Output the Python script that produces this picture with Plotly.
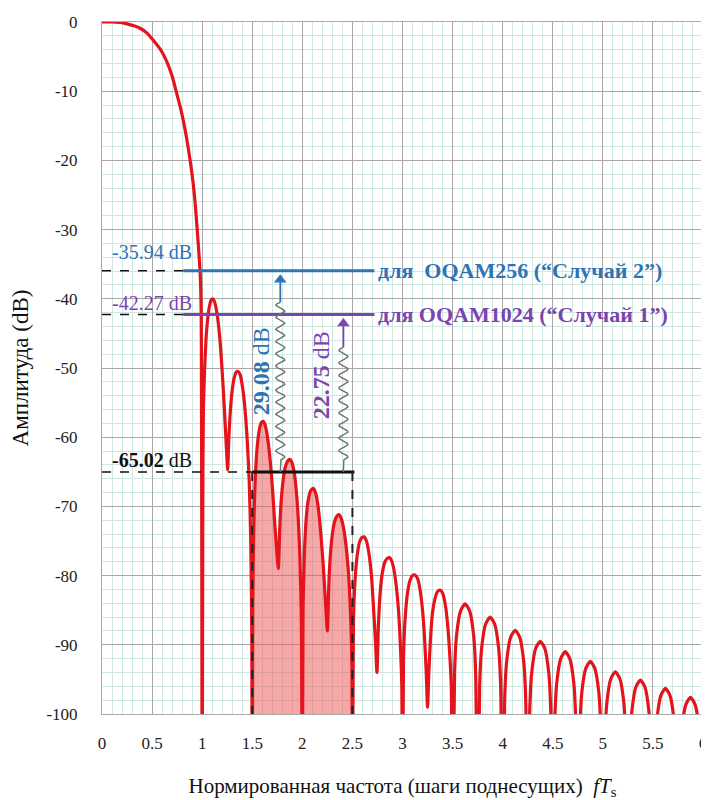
import numpy as np
import plotly.graph_objects as go

# ---------------- data ----------------
freq = [
    0.00, 0.10, 0.20, 0.26, 0.32, 0.38, 0.45, 0.51, 0.58, 0.64, 0.70, 0.74, 0.79, 0.83, 0.88, 0.91, 0.93, 0.96, 0.98, 0.99, 1.00,
    1.006, 1.012, 1.025, 1.045, 1.070, 1.090, 1.105, 1.125, 1.150, 1.175, 1.200, 1.220, 1.240, 1.255,
    1.265, 1.280, 1.300, 1.320, 1.340, 1.360, 1.380, 1.400, 1.425, 1.450, 1.470, 1.485, 1.495, 1.500,
    1.505, 1.515, 1.530, 1.550, 1.570, 1.590, 1.610, 1.630, 1.655, 1.680, 1.700, 1.720, 1.740, 1.760,
    1.775, 1.790, 1.810, 1.830, 1.855, 1.875, 1.895, 1.920, 1.940, 1.960, 1.975, 1.990, 2.000,
    2.007, 2.020, 2.040, 2.060, 2.085, 2.110, 2.135, 2.160, 2.185, 2.210, 2.230, 2.250,
    2.265, 2.280, 2.300, 2.320, 2.345, 2.365, 2.385, 2.410, 2.435, 2.460, 2.480, 2.495, 2.500,
    2.510, 2.525, 2.550, 2.575, 2.595, 2.615, 2.640, 2.665, 2.690, 2.710, 2.730, 2.745,
    2.760, 2.780, 2.800, 2.825, 2.850, 2.870, 2.890, 2.915, 2.940, 2.960, 2.980, 2.993, 3.000,
    3.010, 3.025, 3.050, 3.075, 3.100, 3.125, 3.150, 3.175, 3.200, 3.220, 3.237, 3.250,
    3.263, 3.280, 3.300, 3.325, 3.350, 3.375, 3.400, 3.425, 3.450, 3.470, 3.487, 3.500,
    3.520, 3.540, 3.580, 3.625, 3.670, 3.710, 3.730, 3.750,
    3.770, 3.790, 3.830, 3.875, 3.920, 3.960, 3.980, 4.000,
    4.020, 4.040, 4.080, 4.125, 4.170, 4.210, 4.230, 4.250,
    4.270, 4.290, 4.330, 4.375, 4.420, 4.460, 4.480, 4.500,
    4.520, 4.540, 4.580, 4.625, 4.670, 4.710, 4.730, 4.750,
    4.770, 4.790, 4.830, 4.875, 4.920, 4.960, 4.980, 5.000,
    5.020, 5.040, 5.080, 5.125, 5.170, 5.210, 5.230, 5.250,
    5.270, 5.290, 5.330, 5.375, 5.420, 5.460, 5.480, 5.500,
    5.520, 5.540, 5.580, 5.625, 5.670, 5.710, 5.730, 5.750,
    5.770, 5.790, 5.830, 5.875, 5.920, 5.960, 5.980, 6.000,
]
amp_db = [
    0.0, 0.0, -0.1, -0.3, -0.55, -0.9, -1.6, -2.6, -3.9, -5.5, -7.8, -10.0, -12.8, -15.6, -20.0, -23.3, -26.2, -31.9, -36.3, -42.0, -120,
    -70, -56, -50, -44.5, -41.3, -40.2, -40.0, -40.5, -42.3, -45.5, -50.5, -55.5, -61.0, -64.7,
    -60.5, -56.5, -53.2, -51.4, -50.6, -50.5, -51.0, -52.5, -55.5, -60.5, -66.5, -75.0, -88.0, -120,
    -85, -73, -66, -61.3, -59.0, -57.9, -57.7, -58.3, -60.3, -63.5, -67.0, -71.5, -75.5, -79.0,
    -73, -69, -66, -64.3, -63.4, -63.2, -63.6, -65.2, -67.8, -72.0, -77.0, -86.0, -120,
    -85, -77, -71.5, -69.0, -67.7, -67.4, -68.2, -70.3, -74.0, -78.8, -83.5, -88.0,
    -81, -77, -74, -72.3, -71.4, -71.2, -71.6, -73.0, -75.5, -79.5, -85.0, -93.0, -120,
    -87, -81, -76.8, -75.0, -74.5, -74.4, -75.0, -76.8, -80.0, -84.5, -89.5, -94.0,
    -87, -82, -79.5, -78.0, -77.5, -77.4, -77.8, -79.2, -81.8, -85.0, -90.5, -96.0, -120,
    -92, -86.5, -82.5, -80.7, -80.0, -79.9, -80.4, -82.0, -85.0, -89.0, -94.0, -99.0,
    -94, -89, -85.3, -83.3, -82.3, -82.1, -82.5, -84.0, -87.0, -91.0, -96.0, -120,
    -94, -88.6, -85.1, -84.1, -85.1, -88.6, -94, -120,
    -96, -90.5, -87.0, -86.0, -87.0, -90.5, -96, -120,
    -97.9, -92.4, -88.9, -87.9, -88.9, -92.4, -97.9, -120,
    -99.5, -94.0, -90.5, -89.5, -90.5, -94.0, -99.5, -120,
    -101, -95.5, -92.0, -91.0, -92.0, -95.5, -101, -120,
    -102.4, -96.9, -93.4, -92.4, -93.4, -96.9, -102.4, -120,
    -104, -98.4, -94.9, -93.9, -94.9, -98.4, -104, -120,
    -105, -99.6, -96.1, -95.1, -96.1, -99.6, -105, -120,
    -106, -100.8, -97.3, -96.3, -97.3, -100.8, -106, -120,
    -108, -102, -98.6, -97.6, -98.6, -102, -108, -120,
]

level_values = [-35.94, -42.27, -65.02]
level_texts = ["-35.94 dB", "-42.27 dB", "<b>-65.02</b> dB"]
case_texts = ["для  OQAM256 (“Случай 2”)", "для OQAM1024 (“Случай 1”)"]
margin_texts = ["<b>29.08</b> dB", "<b>22.75</b> dB"]
band_edges = [1.5, 2.5]

x_ticks = [0, 0.5, 1, 1.5, 2, 2.5, 3, 3.5, 4, 4.5, 5, 5.5, 6]
x_tick_text = ["0", "0.5", "1", "1.5", "2", "2.5", "3", "3.5", "4", "4.5", "5", "5.5", "6"]
y_ticks = [0, -10, -20, -30, -40, -50, -60, -70, -80, -90, -100]
y_tick_text = ["0", "-10", "-20", "-30", "-40", "-50", "-60", "-70", "-80", "-90", "-100"]
x_title = "Нормированная частота (шаги поднесущих)  <i>fT</i><sub>s</sub>"
y_title = "Амплитуда (dB)"

# ---------------- styles ----------------
SERIF = "Liberation Serif"
RED = "#e5131b"
BLUE = "#2E73B4"
PURPLE = "#7B44AE"
BLACK = "#111111"
WIGGLE = "#707070"

fig = go.Figure()

# shaded band between 1.5 and 2.5 under the curve
f = np.array(freq)
a = np.array(amp_db)
m = (f >= band_edges[0]) & (f <= band_edges[1])
fig.add_trace(go.Scatter(
    x=f[m], y=a[m], mode="lines", fill="toself",
    fillcolor="rgba(238,80,80,0.50)",
    line=dict(width=0, shape="spline", smoothing=0.6),
    hoverinfo="skip", showlegend=False))

# spectrum curve
fig.add_trace(go.Scatter(
    x=freq, y=amp_db, mode="lines",
    line=dict(color=RED, width=3.2, shape="spline", smoothing=0.6),
    hoverinfo="skip", showlegend=False))

# level lines
x_level_start = [0.81, 0.81, band_edges[0]]
x_level_end = [2.72, 2.72, 2.52]
level_colors = [BLUE, PURPLE, BLACK]
for lv, xs, xe, col in zip(level_values, x_level_start, x_level_end, level_colors):
    fig.add_trace(go.Scatter(x=[0, xs], y=[lv, lv], mode="lines",
                             line=dict(color=BLACK, width=1.5, dash="dash"),
                             hoverinfo="skip", showlegend=False))
    fig.add_trace(go.Scatter(x=[xs, xe], y=[lv, lv], mode="lines",
                             line=dict(color=col, width=3),
                             hoverinfo="skip", showlegend=False))

# vertical dashed band edges
for xb in band_edges:
    fig.add_trace(go.Scatter(x=[xb, xb], y=[level_values[2], -100], mode="lines",
                             line=dict(color="#222222", width=2, dash="dash"),
                             hoverinfo="skip", showlegend=False))


def squiggle(xc, y_bottom, y_top, cycles, amp):
    t = np.linspace(0.0, 1.0, 600)
    return xc + amp * np.sin(2 * np.pi * cycles * t), y_bottom + (y_top - y_bottom) * t


# wavy arrows (wiggle + straight shaft + triangular head)
arrow_x = [1.78, 2.41]
wiggle_top = [-40.5, -47.0]
wiggle_cycles = [13, 9]
arrow_cols = [BLUE, PURPLE]
for xc, wt, cyc, tgt, col in zip(arrow_x, wiggle_top, wiggle_cycles, level_values[:2], arrow_cols):
    wx, wy = squiggle(xc, -63.3, wt, cyc, 0.045)
    wx = np.concatenate([[xc], wx])
    wy = np.concatenate([[level_values[2]], wy])
    fig.add_trace(go.Scatter(x=wx, y=wy, mode="lines",
                             line=dict(color=WIGGLE, width=1.4),
                             hoverinfo="skip", showlegend=False))
    fig.add_trace(go.Scatter(x=[xc, xc], y=[wt, tgt - 1.5], mode="lines",
                             line=dict(color=col, width=1.8),
                             hoverinfo="skip", showlegend=False))
    fig.add_trace(go.Scatter(x=[xc], y=[tgt - 1.3], mode="markers",
                             marker=dict(symbol="triangle-up", size=11, color=col),
                             hoverinfo="skip", showlegend=False))

# level texts
yshifts = [6, -1, -1]
for lv, txt, col, ys in zip(level_values, level_texts, level_colors, yshifts):
    fig.add_annotation(x=0.5, y=lv, xref="x", yref="y", text=txt, showarrow=False,
                       xanchor="center", yanchor="bottom", yshift=ys,
                       font=dict(family=SERIF, size=20, color=col))

for lv, txt, col in zip(level_values[:2], case_texts, level_colors[:2]):
    fig.add_annotation(x=2.74, y=lv, xref="x", yref="y", text="<b>" + txt + "</b>",
                       showarrow=False, xanchor="left", yanchor="middle",
                       font=dict(family=SERIF, size=22, color=col))

margin_pos_x = [1.595, 2.19]
margin_pos_y = [-50.5, -51.0]
for mx, my, txt, col in zip(margin_pos_x, margin_pos_y, margin_texts, arrow_cols):
    fig.add_annotation(x=mx, y=my, xref="x", yref="y", text=txt, showarrow=False,
                       textangle=-90, xanchor="center", yanchor="middle",
                       font=dict(family=SERIF, size=24, color=col))

# page body has an 8px margin: compensate so the plot lands where the reference has it
fig.update_layout(
    width=701, height=792,
    margin=dict(l=94, r=6, t=14, b=86),
    paper_bgcolor="white", plot_bgcolor="white",
    showlegend=False, hovermode=False,
    font=dict(family=SERIF, size=16, color="#222"),
)
fig.update_xaxes(
    range=[0, 6], tickmode="array", tickvals=x_ticks, ticktext=x_tick_text,
    showgrid=True, gridcolor="#a9a9a9", gridwidth=1,
    minor=dict(dtick=0.1, showgrid=True, gridcolor="#cfe9e2", gridwidth=1),
    showline=True, linecolor="#a9a9a9", mirror=True, zeroline=False,
    ticks="", ticklabelstandoff=14,
    tickfont=dict(family=SERIF, size=17, color="#222"),
    title=dict(text=x_title, standoff=26, font=dict(family=SERIF, size=21, color="#111")),
    automargin=False,
)
fig.update_yaxes(
    range=[-100, 0], tickmode="array", tickvals=y_ticks, ticktext=y_tick_text,
    showgrid=True, gridcolor="#a9a9a9", gridwidth=1,
    minor=dict(dtick=2, showgrid=True, gridcolor="#cfe9e2", gridwidth=1),
    showline=True, linecolor="#a9a9a9", mirror=True, zeroline=False,
    ticks="", ticklabelstandoff=20,
    tickfont=dict(family=SERIF, size=17, color="#222"),
    title=dict(text=y_title, standoff=14, font=dict(family=SERIF, size=23, color="#111")),
    automargin=False,
)

fig.write_html("out.html")
